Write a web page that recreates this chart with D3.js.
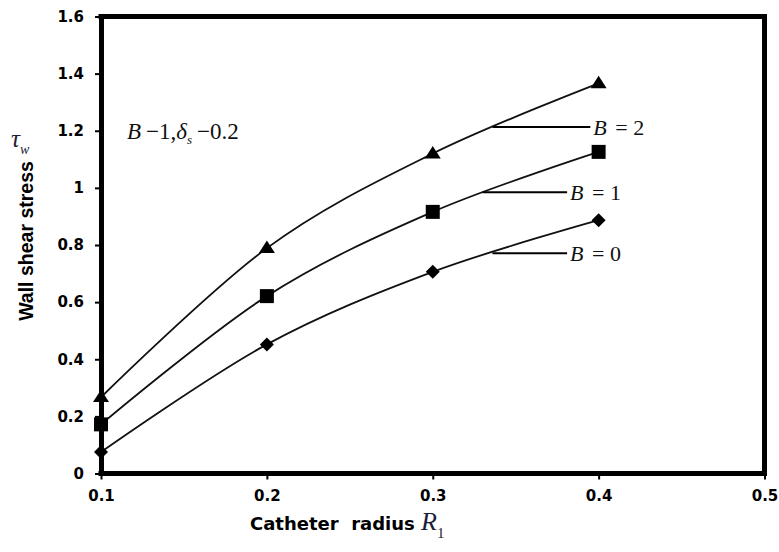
<!DOCTYPE html>
<html>
<head>
<meta charset="utf-8">
<script src="https://cdn.jsdelivr.net/npm/d3@7"></script>
<style>
  html, body { margin: 0; padding: 0; background: #fff; }
  svg { display: block; }
</style>
</head>
<body>
<svg id="chart" width="779" height="552"></svg>
<script>
// ---- data ----
const radius = [0.1, 0.2, 0.3, 0.4];
const stressB0 = [0.075, 0.452, 0.706, 0.887];
const stressB1 = [0.172, 0.621, 0.916, 1.126];
const stressB2 = [0.267, 0.789, 1.120, 1.366];
const seriesNames = ["B = 0", "B = 1", "B = 2"];
const xTicks = [0.1, 0.2, 0.3, 0.4, 0.5];
const yTicks = [0, 0.2, 0.4, 0.6, 0.8, 1, 1.2, 1.4, 1.6];
// leader-label anchors in data units: [x start, x end, y]
const leaderB0 = [0.336, 0.381, 0.771];
const leaderB1 = [0.330, 0.381, 0.985];
const leaderB2 = [0.336, 0.395, 1.213];

const svg = d3.select("#chart");
const x = d3.scaleLinear().domain([0.1, 0.5]).range([101, 764.5]);
const y = d3.scaleLinear().domain([0, 1.6]).range([473.5, 16.5]);

const tickFont = "'DejaVu Sans', sans-serif";

// axes
const gx = svg.append("g").attr("transform", `translate(0,${y(0)})`)
  .call(d3.axisBottom(x).tickValues(xTicks).tickFormat(d3.format(".1f")).tickSize(6).tickSizeOuter(0).tickPadding(11));
const gy = svg.append("g").attr("transform", `translate(${x(0.1)},0)`)
  .call(d3.axisLeft(y).tickValues(yTicks).tickFormat(d => d3.format("")(d)).tickSize(6).tickSizeOuter(0).tickPadding(11));
[gx, gy].forEach(g => {
  g.select(".domain").attr("stroke", "#000").attr("stroke-width", 5);
  g.selectAll(".tick line").attr("stroke", "#000").attr("stroke-width", 2);
  g.selectAll(".tick text").attr("fill", "#000").style("font-family", tickFont)
    .style("font-weight", "bold").style("font-size", "15px");
});
// frame top & right
svg.append("line").attr("x1", x(0.1) - 2.5).attr("x2", x(0.5) + 2.5).attr("y1", y(1.6)).attr("y2", y(1.6))
  .attr("stroke", "#000").attr("stroke-width", 5);
svg.append("line").attr("x1", x(0.5)).attr("x2", x(0.5)).attr("y1", y(1.6)).attr("y2", y(0) + 2.5)
  .attr("stroke", "#000").attr("stroke-width", 5);
gx.select(".domain").attr("d", `M${x(0.1) - 2.5},0H${x(0.5) + 2.5}`);

// curves
const series = [stressB0, stressB1, stressB2];
const line = d3.line().x((d, i) => x(radius[i])).y(d => y(d)).curve(d3.curveCatmullRom.alpha(0));
svg.append("g").selectAll("path").data(series).join("path")
  .attr("d", d => line(d)).attr("fill", "none").attr("stroke", "#111").attr("stroke-width", 1.8);

// markers
const diamond = s => `M0,${-s}L${s},0L0,${s}L${-s},0Z`;
const square = s => `M${-s},${-s}H${s}V${s}H${-s}Z`;
const triangle = s => `M0,${-s * 0.95}L${s},${s * 0.6}L${-s},${s * 0.6}Z`;
const markerPaths = [diamond(7), square(7), triangle(8)];
series.forEach((vals, si) => {
  svg.append("g").selectAll("path").data(vals).join("path")
    .attr("transform", (d, i) => `translate(${x(radius[i])},${y(d)})`)
    .attr("d", markerPaths[si]).attr("fill", "#000");
});

// leader labels
const leaders = [leaderB0, leaderB1, leaderB2];
const serif = "'Liberation Serif', 'Times New Roman', serif";
leaders.forEach((L, i) => {
  svg.append("line").attr("x1", x(L[0])).attr("x2", x(L[1])).attr("y1", y(L[2])).attr("y2", y(L[2]))
    .attr("stroke", "#000").attr("stroke-width", 2);
  const parts = seriesNames[i].split(" ");
  const t = svg.append("text").attr("x", x(L[1]) + 3).attr("y", y(L[2]) + 7.5)
    .style("font-family", serif).style("font-size", "22px").attr("fill", "#111");
  t.append("tspan").style("font-style", "italic").text(parts[0]);
  t.append("tspan").attr("dx", 3).text(" " + parts[1] + " " + parts[2]);
});

// parameter annotation
const ann = svg.append("text").attr("x", 127).attr("y", 139)
  .style("font-family", serif).style("font-size", "23px").attr("fill", "#111");
ann.append("tspan").style("font-style", "italic").text("B");
ann.append("tspan").attr("dx", 5).text("\u22121,");
ann.append("tspan").style("font-style", "italic").text("\u03b4");
ann.append("tspan").style("font-style", "italic").style("font-size", "13px").attr("dy", 5).text("s");
ann.append("tspan").attr("dy", -5).attr("dx", 5).text("\u22120.2");

// y axis title
svg.append("text").attr("transform", "translate(33,241) rotate(-90)")
  .attr("text-anchor", "middle")
  .style("font-family", "'Liberation Sans', Arial, sans-serif").style("font-weight", "bold")
  .style("font-size", "19.5px").attr("fill", "#000").text("Wall shear stress");
const tau = svg.append("text").attr("x", 11).attr("y", 147)
  .style("font-family", serif).style("font-size", "25px").attr("fill", "#1b1e3a");
tau.append("tspan").style("font-style", "italic").text("\u03c4");
tau.append("tspan").style("font-style", "italic").style("font-size", "14px").attr("dy", 7).text("w");

// x axis title
svg.append("text").attr("x", 250).attr("y", 530)
  .style("font-family", tickFont).style("font-weight", "bold")
  .style("font-size", "18px").attr("fill", "#000").text("Catheter\u00a0 radius");
const r1 = svg.append("text").attr("x", 421).attr("y", 530)
  .style("font-family", serif).style("font-size", "26px").attr("fill", "#1b1e3a");
r1.append("tspan").style("font-style", "italic").text("R");
r1.append("tspan").style("font-size", "15px").attr("dy", 8).attr("dx", 0).text("1");
</script>
</body>
</html>
